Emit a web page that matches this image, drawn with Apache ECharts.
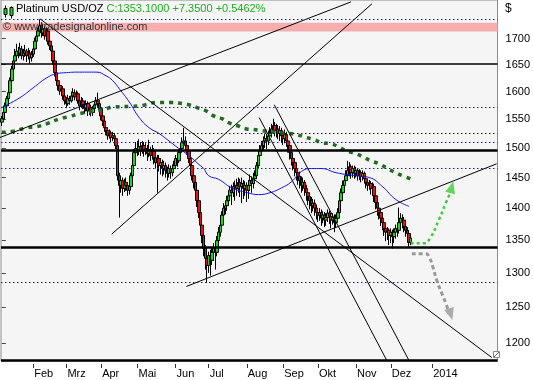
<!DOCTYPE html>
<html><head><meta charset="utf-8">
<script src="https://cdn.jsdelivr.net/npm/echarts@6/dist/echarts.min.js"></script>
<style>html,body{margin:0;padding:0;background:#fff}#c{width:533px;height:380px}</style>
</head><body><div id="c"></div>
<script>
// ---------- data ----------
const N = 300; // trading-day slots incl. future space
const tickIdx = [19,39,60,82,105,125,148,170,191,214,235,260];
const tickLbl = ['Feb','Mrz','Apr','Mai','Jun','Jul','Aug','Sep','Okt','Nov','Dez','2014'];
const yTicks = [1200,1250,1300,1350,1400,1450,1500,1550,1600,1650,1700];

const opens = [
1545,1551,1562,1574,1587,1598,1620,1642,1657,1667,
1676,1672,1680,1667,1672,1676,1667,1672,1663,1670,
1680,1695,1705,1715,1725,1711,1719,1705,1715,1695,
1686,1676,1657,1635,1620,1611,1601,1605,1592,1583,
1578,1587,1583,1592,1598,1590,1596,1583,1574,1583,
1576,1569,1578,1565,1571,1562,1569,1576,1583,1578,
1569,1556,1547,1535,1530,1521,1526,1518,1521,1516,
1504,1453,1437,1445,1432,1442,1437,1429,1435,1453,
1470,1492,1499,1495,1502,1495,1504,1495,1499,1490,
1497,1487,1495,1483,1475,1482,1470,1475,1465,1470,
1462,1457,1465,1458,1465,1470,1482,1478,1492,1499,
1509,1512,1504,1495,1482,1470,1453,1442,1429,1412,
1393,1373,1357,1337,1322,1311,1326,1319,1331,1337,
1331,1349,1362,1373,1389,1400,1404,1412,1420,1429,
1425,1435,1437,1432,1442,1435,1440,1432,1437,1429,
1437,1445,1440,1448,1453,1470,1487,1495,1504,1512,
1516,1512,1521,1526,1533,1539,1530,1533,1525,1530,
1521,1516,1523,1512,1504,1492,1482,1475,1465,1458,
1452,1445,1437,1442,1432,1425,1419,1412,1404,1408,
1400,1393,1389,1393,1384,1389,1381,1385,1392,1387,
1381,1385,1377,1384,1393,1412,1425,1437,1445,1453,
1462,1468,1458,1465,1457,1462,1453,1458,1452,1457,
1448,1442,1437,1440,1432,1435,1420,1409,1400,1393,
1384,1377,1368,1362,1365,1357,1362,1355,1362,1368,
1365,1377,1384,1381,1371,1365,1360,1346];
const closes = [
1551,1562,1574,1587,1598,1620,1642,1657,1667,1676,
1672,1680,1667,1672,1676,1667,1672,1663,1670,1680,
1695,1705,1715,1725,1711,1719,1705,1715,1695,1686,
1676,1657,1635,1620,1611,1601,1605,1592,1583,1578,
1587,1583,1592,1598,1590,1596,1583,1574,1583,1576,
1569,1578,1565,1571,1562,1569,1576,1583,1578,1569,
1556,1547,1535,1530,1521,1526,1518,1521,1516,1504,
1453,1437,1445,1432,1442,1437,1429,1435,1453,1470,
1492,1499,1495,1502,1495,1504,1495,1499,1490,1497,
1487,1495,1483,1475,1482,1470,1475,1465,1470,1462,
1457,1465,1458,1465,1470,1482,1478,1492,1499,1509,
1512,1504,1495,1482,1470,1453,1442,1429,1412,1393,
1373,1357,1337,1322,1311,1326,1319,1331,1337,1331,
1349,1362,1373,1389,1400,1404,1412,1420,1429,1425,
1435,1437,1432,1442,1435,1440,1432,1437,1429,1437,
1445,1440,1448,1453,1470,1487,1495,1504,1512,1516,
1512,1521,1526,1533,1539,1530,1533,1525,1530,1521,
1516,1523,1512,1504,1492,1482,1475,1465,1458,1452,
1445,1437,1442,1432,1425,1419,1412,1404,1408,1400,
1393,1389,1393,1384,1389,1381,1385,1392,1387,1381,
1385,1377,1384,1393,1412,1425,1437,1445,1453,1462,
1468,1458,1465,1457,1462,1453,1458,1452,1457,1448,
1442,1437,1440,1432,1435,1420,1409,1400,1393,1384,
1377,1368,1362,1365,1357,1362,1355,1362,1368,1365,
1377,1384,1381,1371,1365,1360,1346,1353.1];
const lows = [
1538,1548,1558,1570,1582,1594,1615,1636,1650,1660,
1662,1666,1660,1658,1665,1655,1660,1652,1656,1665,
1675,1688,1698,1706,1702,1705,1698,1698,1688,1678,
1665,1650,1628,1612,1602,1594,1595,1585,1576,1570,
1574,1576,1580,1586,1584,1585,1578,1566,1570,1568,
1560,1564,1556,1558,1555,1556,1565,1572,1570,1562,
1548,1538,1528,1522,1514,1516,1510,1512,1508,1498,
1445,1385,1425,1420,1426,1428,1420,1422,1430,1448,
1465,1485,1486,1488,1486,1490,1485,1488,1478,1484,
1478,1480,1472,1465,1425,1460,1455,1452,1455,1450,
1445,1450,1448,1452,1458,1465,1468,1474,1486,1494,
1502,1495,1488,1474,1462,1445,1432,1418,1402,1384,
1362,1345,1325,1305,1285,1300,1296,1312,1318,1305,
1325,1342,1355,1366,1382,1390,1396,1405,1412,1405,
1418,1412,1420,1425,1418,1408,1415,1420,1410,1415,
1428,1425,1432,1440,1448,1465,1480,1488,1496,1500,
1498,1505,1512,1518,1524,1520,1518,1515,1512,1510,
1505,1508,1502,1492,1480,1470,1462,1452,1445,1438,
1432,1425,1428,1420,1412,1405,1398,1392,1395,1388,
1382,1378,1380,1372,1376,1370,1372,1378,1375,1368,
1374,1362,1370,1378,1388,1405,1418,1430,1438,1446,
1452,1448,1450,1448,1450,1445,1446,1442,1445,1440,
1432,1428,1430,1422,1420,1410,1398,1388,1382,1372,
1365,1356,1348,1350,1342,1345,1337,1345,1352,1355,
1360,1368,1368,1362,1355,1350,1340,1342];
const highs = [
1556,1566,1580,1592,1605,1626,1648,1664,1680,1690,
1684,1692,1686,1680,1688,1680,1682,1678,1676,1688,
1702,1712,1722,1738,1732,1728,1724,1722,1720,1700,
1692,1680,1662,1640,1626,1616,1612,1610,1598,1590,
1594,1592,1600,1606,1604,1602,1600,1588,1590,1588,
1582,1584,1582,1578,1576,1574,1582,1590,1598,1584,
1574,1560,1552,1542,1536,1532,1530,1528,1526,1520,
1508,1458,1452,1450,1448,1450,1442,1440,1458,1476,
1498,1510,1512,1515,1510,1512,1510,1508,1505,1514,
1502,1505,1500,1490,1488,1488,1482,1480,1478,1475,
1468,1472,1470,1472,1478,1488,1490,1498,1506,1518,
1535,1520,1510,1500,1486,1475,1458,1446,1432,1416,
1398,1378,1362,1342,1328,1332,1335,1338,1345,1342,
1356,1370,1380,1395,1408,1412,1420,1428,1436,1438,
1442,1445,1448,1450,1448,1450,1446,1444,1442,1446,
1455,1452,1458,1462,1476,1494,1505,1512,1520,1525,
1524,1530,1536,1542,1551,1545,1542,1540,1538,1535,
1528,1532,1528,1518,1508,1496,1488,1480,1470,1464,
1460,1452,1450,1446,1438,1430,1425,1418,1415,1414,
1406,1400,1400,1398,1395,1394,1392,1398,1396,1392,
1392,1390,1390,1400,1418,1432,1445,1452,1462,1478,
1476,1472,1470,1470,1468,1466,1464,1462,1462,1460,
1452,1448,1446,1444,1442,1440,1425,1412,1405,1396,
1390,1382,1372,1370,1368,1368,1366,1368,1374,1376,
1401,1392,1390,1386,1376,1370,1364,1358];

// moving averages: [slot, price]
const maFast = [[0,1571],[11,1589],[19,1607],[27,1625],[33,1633],[39,1635],[47,1636],[57,1636],[63,1629],[67,1620],[71,1605],[77,1581],[83,1553],[89,1535],[95,1525],[101,1512],[107,1499],[113,1487],[119,1472],[122,1465],[125,1453],[131,1447],[139,1433],[150,1424],[155,1422],[162,1425],[169,1433],[175,1443],[181,1460],[187,1465],[193,1465],[202,1458],[214,1453],[222,1450],[230,1435],[238,1414],[246,1403]];
const maSlow = [[0,1527],[7,1529],[15,1535],[21,1537],[27,1542],[35,1551],[41,1555],[47,1560],[57,1565],[63,1569],[67,1572],[77,1573],[83,1574],[87,1576],[93,1580],[98,1580],[103,1580],[109,1578],[113,1576],[118,1571],[124,1564],[128,1556],[133,1551],[137,1544],[142,1539],[148,1533],[152,1532],[157,1530],[163,1528],[169,1526],[174,1525],[178,1523],[184,1518],[189,1514],[193,1509],[199,1507],[204,1501],[208,1495],[214,1490],[218,1485],[223,1478],[228,1473],[233,1465],[238,1458],[242,1453],[247,1448]];

// trend lines [slot, price] endpoints
const trendLines = [
  [[23,1739],[296,1180]],
  [[-1.1,1518],[211,1773]],
  [[66.4,1359],[223.6,1769]],
  [[111.5,1280],[299,1473]],
  [[164.6,1576],[246,1176]],
  [[155.5,1553],[232.6,1176]]
];
const thickLevels = [1502,1341,1182];
const thinLevels = [1657];
const blueDotLevels = [1738,1567,1514,1462,1290];
const blackDotLevels = [1522];
const pinkBand = [1714,1731];
const greenArrow = [[247.1,1345],[255,1345],[259,1354],[264,1381],[268.2,1408],[270.8,1424]];
const greenHead = [271.8,1434];
const grayArrow = [[247.7,1329],[256.1,1329],[258.5,1322],[260.3,1310],[262.8,1289],[265.8,1270],[268.2,1256],[269.6,1246]];
const grayHead = [271.2,1240];

// ---------- build ----------
const L = Math.log;
const categories = [];
{ let d = new Date(Date.UTC(2013,0,7));
  while (categories.length < N) { const w = d.getUTCDay(); if (w>0 && w<6) categories.push(d.toISOString().slice(0,10)); d.setUTCDate(d.getUTCDate()+1); } }
const tickSet = new Set(tickIdx);
const tickMap = {}; tickIdx.forEach((t,i)=>tickMap[t]=tickLbl[i]);
const candles = opens.map((o,i)=>[L(o),L(closes[i]),L(lows[i]),L(highs[i])]);
const P = a => a.map(p=>[p[0], L(p[1])]);
const FONT = 'Liberation Sans, Arial, sans-serif';

const markLines = [];
thickLevels.forEach(v=>markLines.push({yAxis:L(v), lineStyle:{color:'#000',width:2.5,type:'solid'}}));
thinLevels.forEach(v=>markLines.push({yAxis:L(v), lineStyle:{color:'#000',width:1.5,type:'solid'}}));
blueDotLevels.forEach(v=>markLines.push({yAxis:L(v), lineStyle:{color:'#1c1ccc',width:1.2,type:[1.5,2.5]}}));
blackDotLevels.forEach(v=>markLines.push({yAxis:L(v), lineStyle:{color:'#222',width:1.2,type:[1.5,2.5]}}));

const series = [
  { type:'line', xAxisIndex:1, yAxisIndex:0, data:[[-0.5,L(1300)],[N-0.5,L(1300)]], symbol:'none', lineStyle:{opacity:0}, silent:true, z:1,
    markArea:{silent:true, itemStyle:{color:'#f7aeae'}, data:[[{yAxis:L(pinkBand[0])},{yAxis:L(pinkBand[1])}]]},
    markLine:{silent:true, symbol:'none', label:{show:false}, data:markLines, animation:false} },
  { type:'candlestick', xAxisIndex:0, yAxisIndex:0, data:candles, barWidth:3, z:2,
    itemStyle:{color:'#10e010', color0:'#ee1010', borderColor:'#000', borderColor0:'#000', borderWidth:1} },
  { type:'line', xAxisIndex:1, data:P(maFast), smooth:true, symbol:'none', lineStyle:{color:'#1515ee',width:1}, z:3 },
  { type:'line', xAxisIndex:1, data:P(maSlow), smooth:true, symbol:'none', lineStyle:{color:'#1f6b1f',width:3.5,type:[4,5]}, z:3 }
];
trendLines.forEach(t=>series.push({ type:'line', xAxisIndex:1, data:P(t), symbol:'none', lineStyle:{color:'#000',width:1}, z:4 }));
series.push({ type:'line', xAxisIndex:1, data:P(greenArrow), smooth:true, symbol:'none', lineStyle:{color:'#3ccc3c',width:2.5,type:[3,3]}, z:5 });
series.push({ type:'line', xAxisIndex:1, data:P(grayArrow), smooth:true, symbol:'none', lineStyle:{color:'#999',width:3,type:[4,3]}, z:5 });
series.push({ type:'scatter', xAxisIndex:1, data:[[greenHead[0],L(greenHead[1])]], symbol:'triangle', symbolSize:[10,12], symbolRotate:-15, itemStyle:{color:'#3ccc3c'}, z:5 });
series.push({ type:'scatter', xAxisIndex:1, data:[[grayHead[0],L(grayHead[1])]], symbol:'triangle', symbolSize:[10,12], symbolRotate:197, itemStyle:{color:'#999'}, z:5 });

const option = {
  animation:false,
  backgroundColor:'#fff',
  title:{ text:'{a|Platinum USD/OZ} {b|C:1353.1000 +7.3500 +0.5462%}', left:16, top:3, padding:0,
    textStyle:{ fontSize:11, fontFamily:FONT, fontWeight:'normal', rich:{ a:{color:'#000',fontSize:11,fontFamily:FONT}, b:{color:'#1fae1f',fontSize:11,fontFamily:FONT} } } },
  grid:{ left:1, right:34, top:-1, bottom:19, show:true, backgroundColor:'#f5f5f5', borderColor:'#8a8a8a', borderWidth:1 },
  xAxis:[
    { type:'category', data:categories, boundaryGap:true, offset:3,
      axisLine:{show:false}, splitLine:{show:false},
      axisTick:{show:true, alignWithLabel:true, interval:(i)=>tickSet.has(i), length:4, lineStyle:{color:'#333'}},
      axisLabel:{interval:(i)=>tickSet.has(i), formatter:(v,i)=>tickMap[i]||'', align:'left', margin:4, fontSize:11, color:'#000', fontFamily:FONT, padding:[0,0,0,1]} },
    { type:'value', min:-0.5, max:N-0.5, show:false }
  ],
  yAxis:[{ type:'value', position:'right', min:L(1175.3), max:L(1776.8),
    axisLine:{show:false}, splitLine:{show:false},
    axisTick:{show:true, customValues:yTicks.map(L), length:4, lineStyle:{color:'#444'}},
    axisLabel:{customValues:yTicks.map(L), formatter:(v)=>String(Math.round(Math.exp(v))), fontSize:11, color:'#000', margin:8, fontFamily:FONT} }],
  graphic:[
    { type:'text', left:3, top:21, z:20, style:{ text:'© www.tradesignalonline.com', fontSize:11, fontFamily:FONT, fill:'#333' } },
    { type:'text', left:505, top:3, z:20, style:{ text:'$', fontSize:12, fontFamily:FONT, fill:'#000' } },
    { type:'group', left:3, top:3, z:20, children:[
      { type:'line', shape:{x1:2,y1:0,x2:2,y2:12}, style:{stroke:'#000',lineWidth:1} },
      { type:'rect', shape:{x:0.5,y:3,width:3,height:6}, style:{fill:'#10e010',stroke:'#000',lineWidth:1} },
      { type:'line', shape:{x1:8,y1:1,x2:8,y2:13}, style:{stroke:'#000',lineWidth:1} },
      { type:'rect', shape:{x:6.5,y:2,width:3,height:8}, style:{fill:'#10e010',stroke:'#000',lineWidth:1} }
    ]},
    { type:'rect', left:493, top:351, z:20, shape:{width:6,height:6}, style:{fill:'#fff',stroke:'#888',lineWidth:1} },
    { type:'line', z:21, shape:{x1:494,y1:357,x2:499,y2:352}, style:{stroke:'#666',lineWidth:1} }
  ],
  series
};
const chart = echarts.init(document.getElementById('c'), null, {renderer:'canvas'});
chart.setOption(option);
</script></body></html>
